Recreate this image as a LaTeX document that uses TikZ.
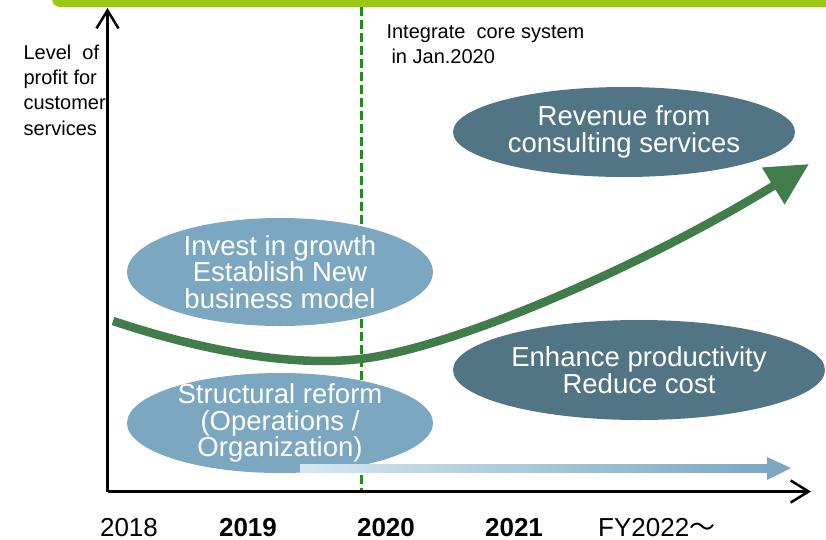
\documentclass[tikz,border=0pt]{standalone}
\usepackage{fontspec}
\setmainfont{Liberation Sans}
\newfontfamily\cjkfont{Noto Sans CJK JP}
\usetikzlibrary{arrows.meta,shapes.geometric,calc}

\definecolor{barlime}{RGB}{155,200,20}
\definecolor{darkslate}{RGB}{82,117,134}
\definecolor{lightslate}{RGB}{123,168,192}
\definecolor{paleslate}{RGB}{214,231,240}
\definecolor{trendgreen}{RGB}{65,125,75}
\definecolor{cutgreen}{RGB}{20,150,20}

\tikzset{
  axisline/.style={line width=2.5pt,-{Straight Barb[length=18pt,width=22pt]}},
  bubble/.style={ellipse,draw=none,inner sep=0pt},
  darkbubble/.style={bubble,fill=darkslate},
  lightbubble/.style={bubble,fill=lightslate},
  bubbletext/.style={text=white,align=center,font=\fontsize{27.5}{26.5}\selectfont},
  yearlabel/.style={anchor=base,inner sep=0pt,font=\fontsize{26}{30}\selectfont},
  boldyear/.style={yearlabel,font=\fontsize{26}{30}\selectfont\bfseries}
}

\begin{document}
\begin{tikzpicture}[x=1pt,y=-1pt]
\useasboundingbox (0,0) rectangle (826,539);
% lime bar on top
\fill[barlime,rounded corners=8pt] (52,-20) rectangle (840,7);

% system cut-over
\coordinate (cuttop) at (361,7);
\coordinate (cutbottom) at (361,490);
\draw[cutgreen,line width=3pt,dash pattern=on 9pt off 4pt] (cuttop) -- (cutbottom);

% axes
\coordinate (origin) at (107.5,491.5);
\coordinate (ytop) at (107.5,8);
\coordinate (xend) at (811,491.5);
\draw[axisline] (origin) -- (ytop);
\draw[axisline] (origin) -- (xend);

% bubbles
\node[darkbubble,minimum width=342pt,minimum height=90pt] (revenue) at (624,132) {};
\node[bubbletext] (revenuetext) at (revenue) {Revenue from\\consulting services};
\node[darkbubble,minimum width=372pt,minimum height=100pt] (enhance) at (639,370) {};
\node[bubbletext] (enhancetext) at (enhance) {Enhance productivity\\Reduce cost};
\node[lightbubble,minimum width=306pt,minimum height=108pt] (invest) at (280,272) {};
\node[bubbletext] (investtext) at (invest) {Invest in growth\\Establish New\\business model};
\node[lightbubble,minimum width=306pt,minimum height=100pt] (reform) at (280,423) {};
\node[bubbletext] (reformtext) at (reform) {Structural reform\\(Operations /\\Organization)};

% profit curve
\coordinate (trendstart) at (113,321);
\coordinate (trenddip) at (360,359);
\coordinate (trendtip) at (809,164);
\draw[trendgreen,line width=8.5pt,-{Triangle[length=42pt,width=41pt]}]
  (trendstart) .. controls (200,350) and (290,367) .. (trenddip)
  .. controls (450,349) and (640,268) .. (trendtip);

% reform carries on
\coordinate (reformstart) at (300,468);
\coordinate (reformend) at (791,468);
\shade[left color=paleslate,right color=lightslate]
  ($(reformstart)+(0,-4)$) rectangle (767,472);
\fill[lightslate] (767,457) -- (reformend) -- (767,480) -- cycle;

% texts (base = last line)
\node[anchor=base west,align=left,font=\fontsize{20}{25.3}\selectfont] (ylabel) at (20,135)
  {Level\ \ of\\profit for\\customer\\services};
\node[anchor=base west,align=left,font=\fontsize{20}{25}\selectfont] (cutnote) at (383,63)
  {Integrate\ \ core system\\\hspace*{5pt}in Jan.2020};

\node[yearlabel] (y2018) at (129,536) {2018};
\node[boldyear] (y2019) at (248,536) {2019};
\node[boldyear] (y2020) at (386,536) {2020};
\node[boldyear] (y2021) at (514,536) {2021};
\node[yearlabel,anchor=base west] (y2022) at (598,536) {FY2022{\cjkfont 〜}};
\end{tikzpicture}
\end{document}
